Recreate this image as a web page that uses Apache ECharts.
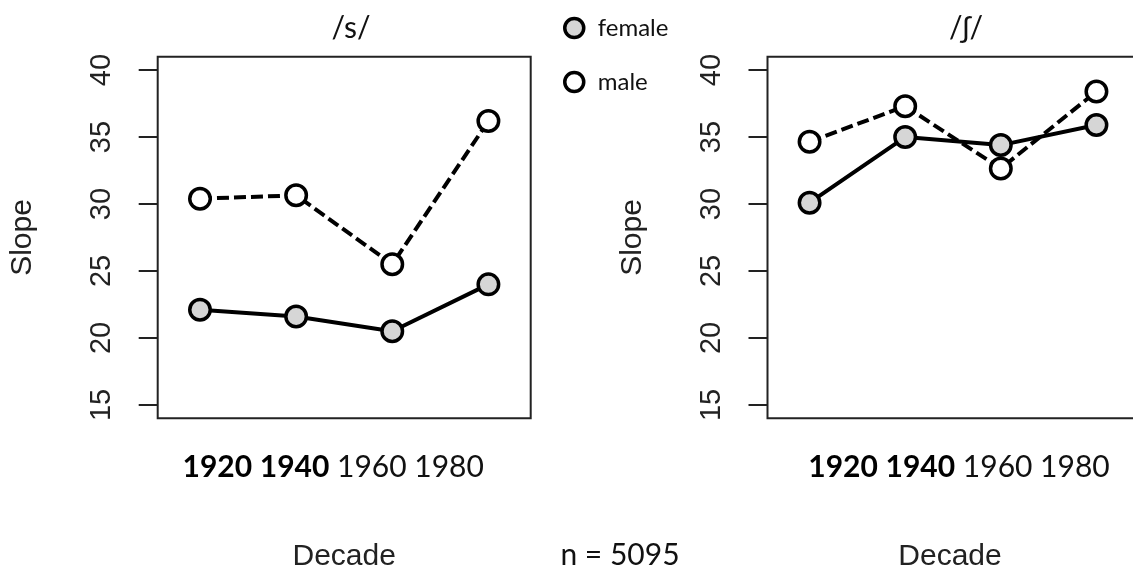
<!DOCTYPE html>
<html>
<head>
<meta charset="utf-8">
<script src="https://cdn.jsdelivr.net/npm/echarts@6/dist/echarts.min.js"></script>
<style>
html,body{margin:0;padding:0;background:#fff;}
#chart{width:1133px;height:572px;}
</style>
</head>
<body>
<div id="chart"></div>
<script>
// ---- data ----
const decades = [1920, 1940, 1960, 1980];
const decadeLabels = ['1920', '1940', '1960', '1980'];
const boldDecades = ['1920', '1940'];
const panelTitles = ['/s/', '/ʃ/'];
const sFemale = [22.1, 21.6, 20.5, 24.0];
const sMale = [30.4, 30.65, 25.5, 36.2];
const shFemale = [30.1, 35.0, 34.4, 35.9];
const shMale = [34.65, 37.3, 32.65, 38.4];
const yTicks = [15, 20, 25, 30, 35, 40];
const yAxisTitle = 'Slope';
const xAxisTitle = 'Decade';
const sampleSize = 5095;

// ---- styles ----
const FEMALE_FILL = '#d6d6d6';
const MALE_FILL = '#ffffff';
const CAL = 'Lato, "Open Sans", sans-serif';
const ARIAL = '"Liberation Sans", Arial, sans-serif';

const chart = echarts.init(document.getElementById('chart'), null, {renderer: 'canvas'});

const rowText = decadeLabels.map(d => boldDecades.includes(d) ? '{b|' + d + '}' : '{n|' + d + '}').join('{n| }');

const grids = [
  {left: 157.7, top: 56.7, width: 373, height: 361.6},
  {left: 767.5, top: 56.7, width: 371, height: 361.6}
];

function rowAxis(gi, padRight) {
  return {
    type: 'value', gridIndex: gi, min: 1911.2, max: 1988.8,
    axisLine: {show: false}, axisTick: {show: false}, axisLabel: {show: false}, splitLine: {show: false},
    name: rowText, nameLocation: 'middle', nameGap: 34,
    nameTextStyle: {
      padding: [0, padRight, 0, 0],
      rich: {
        b: {fontFamily: CAL, fontSize: 30, fontWeight: 'bold', color: '#000'},
        n: {fontFamily: CAL, fontSize: 30, fontWeight: 'normal', color: '#111'}
      }
    }
  };
}
function decadeAxis(gi, padRight) {
  return {
    type: 'value', gridIndex: gi, min: 1911.2, max: 1988.8, position: 'bottom',
    axisLine: {show: false}, axisTick: {show: false}, axisLabel: {show: false}, splitLine: {show: false},
    name: xAxisTitle, nameLocation: 'middle', nameGap: 123,
    nameTextStyle: {fontFamily: ARIAL, fontSize: 30, color: '#222', padding: [0, padRight, 0, 0]}
  };
}
function yAxis(gi) {
  return {
    type: 'value', gridIndex: gi, min: 14, max: 41,
    axisLine: {show: false},
    splitLine: {show: false},
    axisTick: {show: true, inside: false, length: 19, customValues: yTicks, lineStyle: {color: '#222', width: 2}},
    axisLabel: {show: true, customValues: yTicks, rotate: 90, margin: 41, fontFamily: ARIAL, fontSize: 29, color: '#222'},
    name: yAxisTitle, nameLocation: 'middle', nameRotate: 90, nameGap: 120,
    nameTextStyle: {fontFamily: ARIAL, fontSize: 30, color: '#222'}
  };
}

function lineSeries(name, gi, values, dashed, fill) {
  return {
    type: 'line', name: name, xAxisIndex: gi, yAxisIndex: gi,
    data: decades.map((d, i) => [d, values[i]]),
    symbol: 'circle', symbolSize: 20.5, showAllSymbol: true,
    itemStyle: {color: fill, borderColor: '#000', borderWidth: 3.5, opacity: 1},
    lineStyle: {color: '#000', width: 4, type: dashed ? [12, 5] : 'solid'},
    emphasis: {disabled: true}, silent: true
  };
}

const option = {
  animation: false,
  backgroundColor: '#fff',
  grid: grids.map(g => Object.assign({show: true, borderColor: '#222', borderWidth: 2, backgroundColor: 'transparent', containLabel: false, outerBoundsMode: 'none'}, g)),
  xAxis: [rowAxis(0, 22), rowAxis(1, -12), decadeAxis(0, 0), decadeAxis(1, 6)],
  yAxis: [yAxis(0), yAxis(1)],
  legend: {
    orient: 'vertical', left: 563, top: 16, icon: 'circle', padding: 0,
    itemWidth: 19, itemHeight: 19, itemGap: 30,
    selectedMode: false,
    textStyle: {fontFamily: CAL, fontSize: 24, color: '#111', padding: [0, 0, 0, 9]},
    data: [
      {name: 'female', itemStyle: {color: FEMALE_FILL, borderColor: '#000', borderWidth: 3.5}},
      {name: 'male', itemStyle: {color: MALE_FILL, borderColor: '#000', borderWidth: 3.5}}
    ]
  },
  title: [
    {text: panelTitles[0], left: 346, top: 8, textAlign: 'center', textStyle: {fontFamily: CAL, fontSize: 30, fontWeight: 'normal', color: '#111'}},
    {text: panelTitles[1], left: 961, top: 8, textAlign: 'center', textStyle: {fontFamily: CAL, fontSize: 30, fontWeight: 'normal', color: '#111'}},
    {text: 'n = ' + sampleSize, left: 615, top: 535, textAlign: 'center', textStyle: {fontFamily: CAL, fontSize: 30, fontWeight: 'normal', color: '#111'}}
  ],
  series: [
    lineSeries('male', 0, sMale, true, MALE_FILL),
    lineSeries('female', 0, sFemale, false, FEMALE_FILL),
    lineSeries('male', 1, shMale, true, MALE_FILL),
    lineSeries('female', 1, shFemale, false, FEMALE_FILL)
  ]
};
chart.setOption(option);
</script>
</body>
</html>
